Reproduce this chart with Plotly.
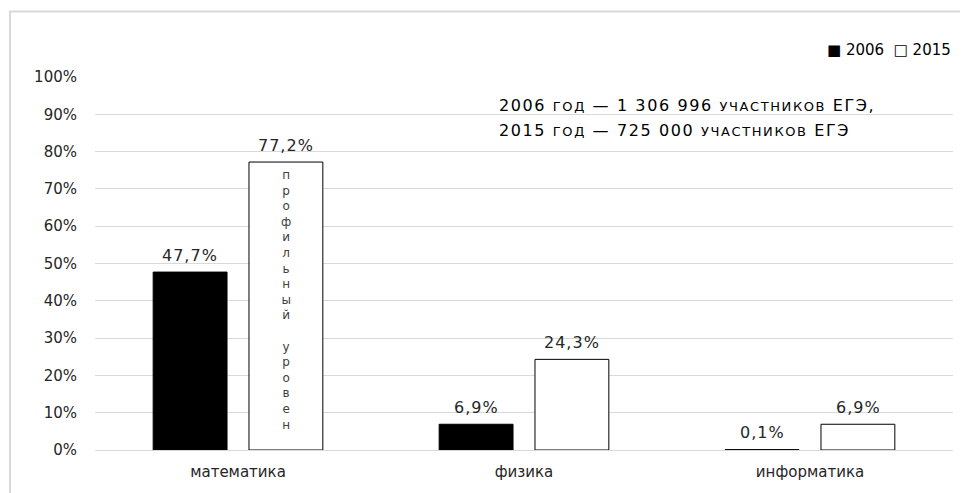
import plotly.graph_objects as go

categories = ["математика", "физика", "информатика"]
years = ["2006", "2015"]
values_2006 = [47.7, 6.9, 0.1]
values_2015 = [77.2, 24.3, 6.9]
y_ticks = [0, 10, 20, 30, 40, 50, 60, 70, 80, 90, 100]
y_tick_labels = [f"{v}%" for v in y_ticks]
inner_label = "профильный уровен"
note_lines = [
    ("2006", "год", "1 306 996", "участников", "ЕГЭ,"),
    ("2015", "год", "725 000", "участников", "ЕГЭ"),
]

FONT = "DejaVu Sans"
OFF = 8  # page body margin
W, H = 968 - OFF, 493 - OFF
L, T = 95 - OFF, 77 - OFF
R = W - (953 - OFF)
B = H - (453 - OFF)
pw, ph = W - L - R, H - T - B

def px_x(x):
    return (x - OFF - L) / pw

def px_y(y):
    return (H - B - (y - OFF)) / ph

def fmt(v):
    return f"{v:.1f}".replace(".", ",") + "%"

fig = go.Figure()
fig.add_trace(go.Bar(
    name=years[0], x=categories, y=values_2006,
    marker=dict(color="#000000", line=dict(color="#000000", width=1)),
    showlegend=False,
))
fig.add_trace(go.Bar(
    name=years[1], x=categories, y=values_2015,
    marker=dict(color="#ffffff", line=dict(color="#000000", width=1)),
    showlegend=False,
))

# value labels above bars
for vals, shift in ((values_2006, -48), (values_2015, 48)):
    for c, v in zip(categories, vals):
        fig.add_annotation(
            x=c, y=v, xref="x", yref="y", xshift=shift, yshift=17,
            showarrow=False, yanchor="middle",
            text=f"<span style='letter-spacing:1px'>{fmt(v)}</span>",
            font=dict(family=FONT, size=16, color="#262626"),
        )

# vertical text inside the 2015 математика bar
fig.add_annotation(
    x=categories[0], y=values_2015[0] * 0.52, xref="x", yref="y",
    xshift=48, showarrow=False,
    text="<br>".join(ch if ch != " " else " " for ch in inner_label),
    font=dict(family=FONT, size=12, color="#404040"),
    align="center",
)

ys = [106, 131]
for (yr, g, n, u, e), yp in zip(note_lines, ys):
    txt = (f"<span style='letter-spacing:1.6px'>{yr} <span style='font-size:13px'>{g.upper()}</span> — {n} "
           f"<span style='font-size:13px'>{u.upper()}</span> {e}</span>")
    fig.add_annotation(
        x=px_x(497), y=px_y(yp), xref="paper", yref="paper",
        xanchor="left", yanchor="middle", showarrow=False, text=txt,
        font=dict(family=FONT, size=16, color="#000000"), align="left",
    )

# legend drawn as text
fig.add_annotation(
    x=1.0, y=px_y(50), xref="paper", yref="paper", xanchor="right", yanchor="middle",
    showarrow=False,
    text=f"■ {years[0]}  □ {years[1]}",
    font=dict(family=FONT, size=15, color="#000000"),
)

# outer frame
fig.add_shape(type="rect", xref="paper", yref="paper",
              x0=px_x(10), x1=px_x(1000), y0=px_y(11), y1=px_y(520),
              line=dict(color="#d9d9d9", width=2), fillcolor="rgba(0,0,0,0)",
              layer="below")

fig.update_layout(
    width=W, height=H,
    margin=dict(l=L, r=R, t=T, b=B, pad=0),
    paper_bgcolor="#ffffff", plot_bgcolor="#ffffff",
    barmode="group", bargap=0.33, bargroupgap=0.229,
    font=dict(family=FONT, size=15, color="#262626"),
    showlegend=False,
    xaxis=dict(showgrid=False, showline=False, ticks="", zeroline=False,
               ticklabelstandoff=11,
               tickfont=dict(family=FONT, size=15, color="#262626")),
    yaxis=dict(range=[0, 100], tickmode="array", tickvals=y_ticks, ticktext=y_tick_labels,
               showgrid=True, gridcolor="#d9d9d9", gridwidth=1,
               zeroline=True, zerolinecolor="#d9d9d9", zerolinewidth=1,
               showline=False, ticks="", ticklabelstandoff=17,
               tickfont=dict(family=FONT, size=15, color="#262626")),
)

fig.write_html("out.html")
